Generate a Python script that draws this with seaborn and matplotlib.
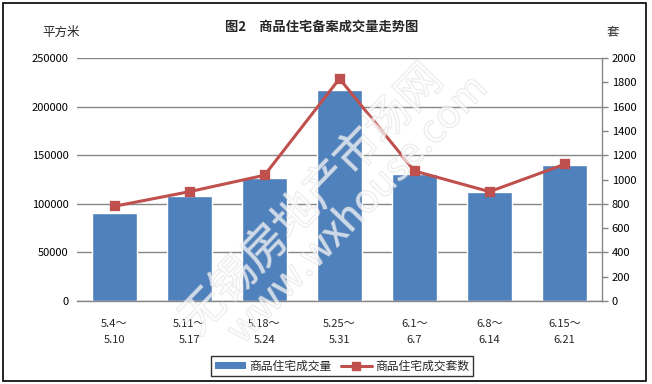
import matplotlib
matplotlib.use("Agg")
import matplotlib.pyplot as plt
import matplotlib.patheffects as pe
from matplotlib.patches import Rectangle, Patch
from matplotlib.lines import Line2D
import seaborn as sns
import pandas as pd

sns.set_theme(style="white")
plt.rcParams['font.family'] = ['Noto Sans CJK SC', 'DejaVu Sans']

categories = ["5.4～\n5.10", "5.11～\n5.17", "5.18～\n5.24", "5.25～\n5.31",
              "6.1～\n6.7", "6.8～\n6.14", "6.15～\n6.21"]
area = [91000, 108000, 127000, 217000, 131000, 112000, 140000]
units = [780, 900, 1035, 1830, 1070, 900, 1125]
left_ticks = [0, 50000, 100000, 150000, 200000, 250000]
right_ticks = [0, 200, 400, 600, 800, 1000, 1200, 1400, 1600, 1800, 2000]

df = pd.DataFrame({"period": categories, "area": area, "units": units})

BLUE = "#4F81BD"
RED = "#C0504D"
GRID = "#868686"

fig = plt.figure(figsize=(6.52, 3.84), dpi=100)
fig.patch.set_facecolor("white")
ax = fig.add_axes([77/652, 1-301/384, (602-77)/652, (301-58)/384])

sns.barplot(data=df, x="period", y="area", color=BLUE, width=0.6,
            saturation=1, ax=ax, zorder=2)
ax.set_ylim(0, 250000)
ax.set_xlim(-0.5, 6.5)
ax.set_yticks(left_ticks)
ax.set_yticklabels([str(v) for v in left_ticks], fontsize=8, color="black")
ax.yaxis.grid(True, color=GRID, linewidth=1)
ax.set_axisbelow(True)
ax.set_xlabel("")
ax.set_ylabel("")
ax.tick_params(axis="x", length=0, pad=13, labelsize=8)
ax.tick_params(axis="y", length=0, pad=6)
for lab in ax.get_xticklabels():
    lab.set_linespacing(1.75)
for s in ["top", "right", "left"]:
    ax.spines[s].set_visible(False)
ax.spines["bottom"].set_color(GRID)
ax.spines["bottom"].set_linewidth(1)

ax2 = ax.twinx()
sns.pointplot(data=df, x="period", y="units", color=RED, markers="s",
              linestyles="-", ax=ax2, markersize=6, linewidth=2.2, zorder=3)
ax2.set_ylim(0, 2000)
ax2.set_xlim(-0.5, 6.5)
ax2.set_yticks(right_ticks)
ax2.set_yticklabels([str(v) for v in right_ticks], fontsize=8, color="black")
ax2.set_ylabel("")
ax2.set_xlabel("")
ax2.tick_params(axis="y", length=4, width=1, color=GRID, pad=3, direction="out")
for s in ["top", "left", "bottom"]:
    ax2.spines[s].set_visible(False)
ax2.spines["right"].set_color(GRID)
ax2.spines["right"].set_linewidth(1)

# texts
fig.text(0.494, 1-27/384, "图2　商品住宅备案成交量走势图", ha="center", va="center",
         fontsize=9.5, fontweight="bold")
fig.text(61/652, 1-32/384, "平方米", ha="center", va="center", fontsize=9)
fig.text(613/652, 1-32/384, "套", ha="center", va="center", fontsize=9)

# watermark
wm_fx = [pe.withStroke(linewidth=1.0, foreground="#d0d0d0")]
fig.text(312/652, 1-200/384, "无锡房地产市场网", ha="center", va="center",
         rotation=46, fontsize=32, color="white", alpha=0.45,
         path_effects=wm_fx, zorder=10)
fig.text(358/652, 1-210/384, "www.wxhouse.com", ha="center", va="center",
         rotation=46, fontsize=28, color="white", alpha=0.45,
         path_effects=wm_fx, zorder=10)

# legend
handles = [Patch(facecolor=BLUE, edgecolor="none"),
           Line2D([], [], color=RED, linewidth=2.2, marker="s", markersize=6)]
leg = fig.legend(handles, ["商品住宅成交量", "商品住宅成交套数"],
                 loc="center", bbox_to_anchor=(342/652, 1-366/384), ncol=2,
                 fontsize=8.5, frameon=True, fancybox=False, borderpad=0.3,
                 handlelength=2.6, handleheight=0.5, columnspacing=0.8,
                 handletextpad=0.3)
leg.get_frame().set_edgecolor("black")
leg.get_frame().set_linewidth(1)

# outer border
fig.add_artist(Rectangle((3/652, 3/384), 643/652, 378/384, transform=fig.transFigure,
                         fill=False, edgecolor="black", linewidth=1.2))

fig.savefig("out.png", dpi=100)
